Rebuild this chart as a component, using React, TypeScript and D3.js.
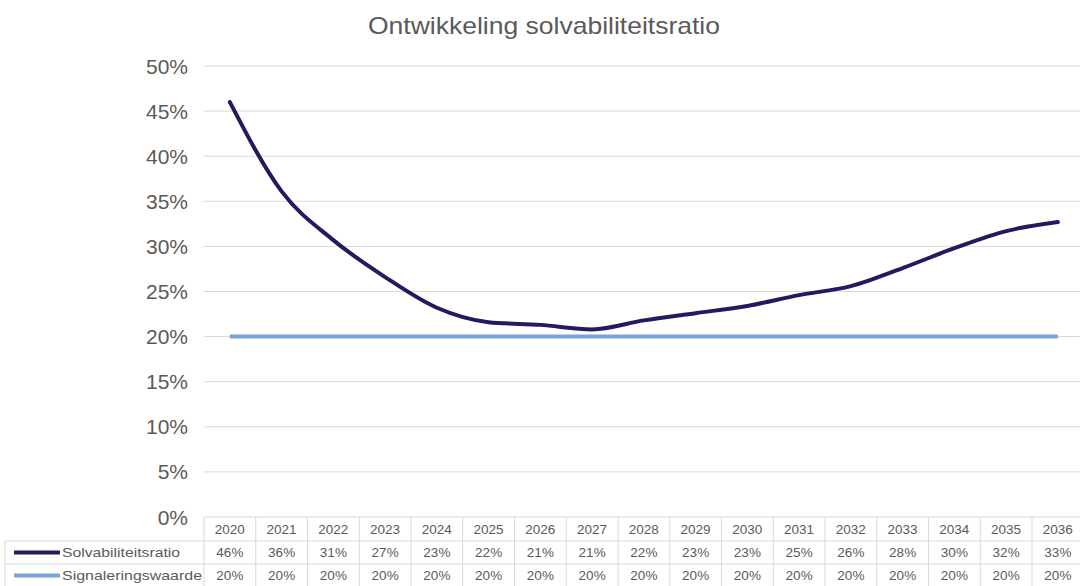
import React from "react";
import * as d3 from "d3";

const years = ["2020","2021","2022","2023","2024","2025","2026","2027","2028","2029","2030","2031","2032","2033","2034","2035","2036"];
const solvabiliteit = [46.0, 36.1, 30.7, 26.6, 23.2, 21.6, 21.3, 20.8, 21.8, 22.6, 23.4, 24.6, 25.6, 27.6, 29.8, 31.7, 32.7];
const signalering = [20,20,20,20,20,20,20,20,20,20,20,20,20,20,20,20,20];
const yTicks = [0,5,10,15,20,25,30,35,40,45,50];
const seriesNames = ["Solvabiliteitsratio", "Signaleringswaarde"];

const W = 1080, H = 586;
const NAVY = "#241a5f";
const LIGHT = "#78a5d8";
const TXT = "#5a5a5a";
const GRID = "#d9d9d9";

export default function App() {
  const x = d3.scaleBand<string>().domain(years).range([204, 204 + 17 * 51.75]);
  const y = d3.scaleLinear().domain([0, 50]).range([517, 66]);
  const cx = (yr: string) => (x(yr) as number) + x.bandwidth() / 2;
  const line = d3.line<number>().x((_, i) => cx(years[i])).y(d => y(d)).curve(d3.curveMonotoneX);
  const rowTop = [517, 541, 564, 587];
  const tableLeft = 5;
  const font = "'Liberation Sans', Arial, sans-serif";
  const series = [solvabiliteit, signalering];
  const colors = [NAVY, LIGHT];
  return (
    <svg width={W} height={H} style={{ position: "absolute", left: 0, top: 0, background: "#fff" }} fontFamily={font}>
      <rect width={W} height={H} fill="#fff" />
      <text x={544} y={34} textAnchor="middle" fontSize={24} fill={TXT} textLength={352} lengthAdjust="spacingAndGlyphs">Ontwikkeling solvabiliteitsratio</text>
      {yTicks.map(t => (
        <g key={t}>
          {t > 0 && <line x1={204} x2={W} y1={y(t)} y2={y(t)} stroke={GRID} strokeWidth={1} />}
          <text x={188} y={y(t) + 7.5} textAnchor="end" fontSize={21} fill={TXT}>{t}%</text>
        </g>
      ))}
      {/* table grid */}
      <line x1={204} x2={W} y1={rowTop[0]} y2={rowTop[0]} stroke={GRID} />
      {[1, 2].map(r => <line key={r} x1={tableLeft} x2={W} y1={rowTop[r]} y2={rowTop[r]} stroke={GRID} />)}
      <line x1={tableLeft} x2={tableLeft} y1={rowTop[1]} y2={H} stroke={GRID} />
      {years.map(yr => <line key={yr} x1={x(yr) as number} x2={x(yr) as number} y1={rowTop[0]} y2={H} stroke={GRID} />)}
      {years.map(yr => (
        <text key={yr} x={cx(yr)} y={rowTop[0] + 17} textAnchor="middle" fontSize={13.5} fill={TXT}>{yr}</text>
      ))}
      {series.map((s, si) => (
        <g key={si}>
          <line x1={14} x2={60} y1={(rowTop[si + 1] + rowTop[si + 2]) / 2} y2={(rowTop[si + 1] + rowTop[si + 2]) / 2} stroke={colors[si]} strokeWidth={4} />
          <text x={62} y={rowTop[si + 1] + 16} fontSize={13.5} fill={TXT} textLength={si === 0 ? 118 : 140} lengthAdjust="spacingAndGlyphs">{seriesNames[si]}</text>
          {s.map((v, i) => (
            <text key={i} x={cx(years[i])} y={rowTop[si + 1] + 16} textAnchor="middle" fontSize={13.5} fill={TXT}>{Math.round(v)}%</text>
          ))}
        </g>
      ))}
      <path d={line(signalering) as string} fill="none" stroke={LIGHT} strokeWidth={4} />
      <path d={line(solvabiliteit) as string} fill="none" stroke={NAVY} strokeWidth={4} strokeLinejoin="round" strokeLinecap="round" />
    </svg>
  );
}
